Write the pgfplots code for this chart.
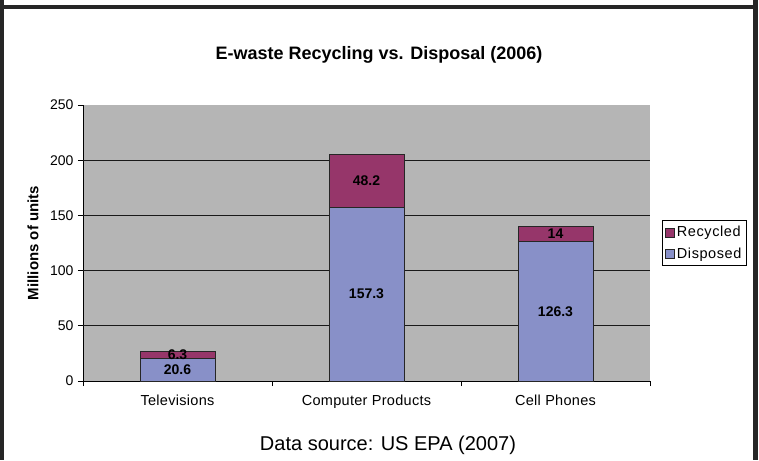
\documentclass[border=0pt]{standalone}
\usepackage{pgfplots}
\pgfplotsset{compat=1.18}
\usepackage{fontspec}
\setmainfont{Liberation Sans}

\definecolor{plotgray}{HTML}{B5B5B5}
\definecolor{recyc}{HTML}{96366A}
\definecolor{disp}{HTML}{8890C8}
\definecolor{framecol}{HTML}{262626}

\begin{document}
\begin{tikzpicture}[x=1pt,y=1pt]
  \useasboundingbox (0,0) rectangle (759,460);
  \fill[white] (0,0) rectangle (759,460);
  \begin{axis}[
      at={(83pt,79pt)}, anchor=south west,
      scale only axis, width=567pt, height=276pt,
      ybar stacked, bar width=75pt,
      xmin=-0.5, xmax=2.5, ymin=0, ymax=250,
      axis background/.style={fill=plotgray},
      axis x line*=bottom, axis y line*=left,
      axis line style={black, line width=0.8pt},
      /pgf/number format/assume math mode=true,
      tick align=outside,
      ytick={0,50,...,250},
      major tick length=5pt, minor tick length=5pt,
      ytick style={black, line width=0.8pt},
      extra y ticks={50,100,150,200},
      extra y tick labels={},
      extra y tick style={grid=major, major tick length=0pt},
      grid style={black!90, line width=0.9pt},
      xtick={0,1,2},
      xticklabels={Televisions, Computer Products, Cell Phones},
      minor xtick={-0.5,0.5,1.5,2.5},
      major x tick style={draw=none},
      minor x tick style={black, line width=0.8pt},
      yticklabel style={font=\fontsize{14}{14}\selectfont, xshift=-1pt},
      xticklabel style={font=\fontsize{14.5}{14.5}\selectfont\addfontfeature{LetterSpace=2}, yshift=-5pt},
      ylabel={Millions of units},
      ylabel style={font=\bfseries\fontsize{15}{15}\selectfont,
        at={(axis description cs:-0.088,0.5)}, anchor=center},
      legend style={at={(1,0.5)}, anchor=west, xshift=12pt,
        draw=black, fill=white, line width=0.6pt,
        font=\fontsize{14.5}{14.5}\selectfont\addfontfeature{LetterSpace=4},
        row sep=5pt, inner xsep=3pt, inner ysep=4pt},
      legend cell align=left,
      reverse legend,
      legend image code/.code={
        \draw[#1, line width=0.6pt] (0pt,-4.5pt) rectangle (9pt,4.5pt);},
      nodes near coords={\pgfmathprintnumber{\rawy}},
      visualization depends on=rawy \as \rawy,
      every node near coord/.append style={anchor=center,
        font=\bfseries\fontsize{14}{14}\selectfont},
    ]
    \addplot[fill=disp, draw=black!85, line width=0.7pt]
      coordinates {(0,20.6) (1,157.3) (2,126.3)};
    \addplot[fill=recyc, draw=black!85, line width=0.7pt]
      coordinates {(0,6.3) (1,48.2) (2,14)};
    \legend{Disposed, Recycled}
  \end{axis}
  \node[font=\bfseries\fontsize{18}{18}\selectfont] at (379,405)
    {E-waste Recycling vs. Disposal (2006)};
  \node[font=\fontsize{20}{20}\selectfont] at (388,15)
    {Data source: US EPA (2007)};
  % slide frame
  \fill[framecol] (0,0) rectangle (4,460);
  \fill[framecol] (753,0) rectangle (758,460);
  \fill[framecol] (0,451) rectangle (758,455);
\end{tikzpicture}
\end{document}
